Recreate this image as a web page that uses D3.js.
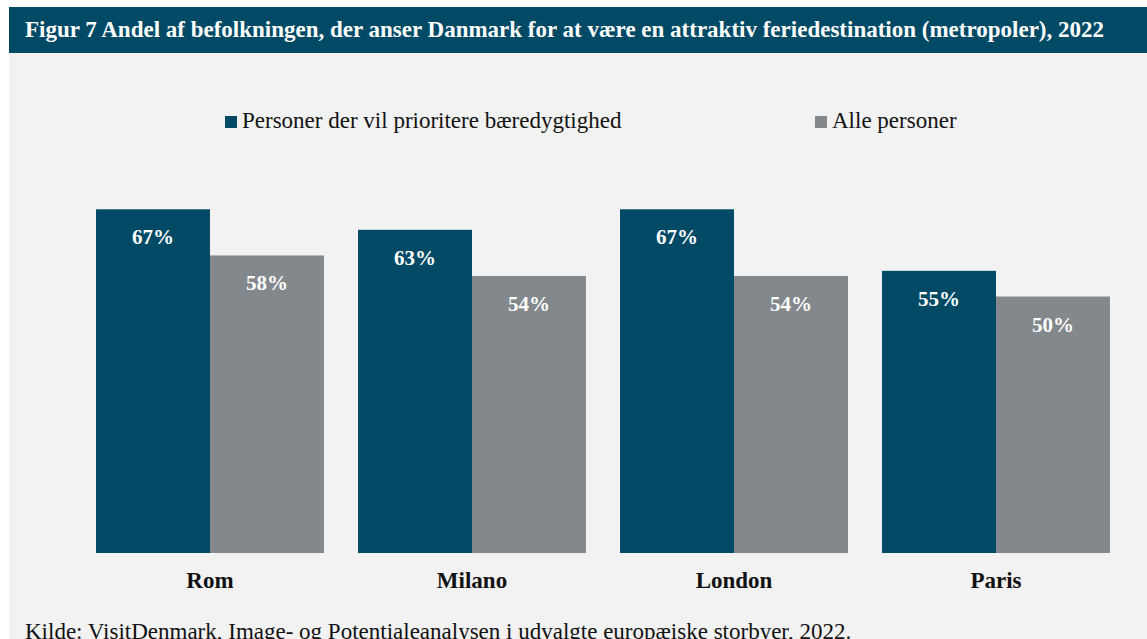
<!DOCTYPE html>
<meta charset="utf-8">
<html>
  <style>
    body { margin: 0; background: #fff; }
    text { font-family: "Liberation Serif", "DejaVu Serif", serif; }
  </style>
  <head>
    <script src="https://d3js.org/d3.v7.min.js"></script>
  </head>
  <body>
    <script>
      // data
      var cities = ["Rom", "Milano", "London", "Paris"];
      var seriesNames = ["Personer der vil prioritere bæredygtighed", "Alle personer"];
      var baeredygtig = [67, 63, 67, 55];
      var alle = [58, 54, 54, 50];
      var colors = ["#004a66", "#83888c"];

      var W = 1147, H = 639;

      var svg = d3.select("body").append("svg")
          .attr("width", W)
          .attr("height", H);

      // panel background + title bar
      svg.append("rect").attr("x", 9).attr("y", 53).attr("width", W - 9).attr("height", H - 53)
         .attr("fill", "#f2f2f2");
      svg.append("rect").attr("x", 9).attr("y", 7).attr("width", W - 9).attr("height", 46)
         .attr("fill", "#004a66");
      svg.append("text")
         .attr("x", 25).attr("y", 37)
         .attr("fill", "#fff")
         .attr("font-weight", "bold")
         .attr("font-size", 23)
         .text("Figur 7 Andel af befolkningen, der anser Danmark for at være en attraktiv feriedestination (metropoler), 2022");

      //scales
      var x0 = d3.scaleBand().domain(cities).range([79, 1127]).paddingInner(0.13).paddingOuter(0.065);
      var x1 = d3.scaleBand().domain([0, 1]).range([0, x0.bandwidth()]);
      var y = d3.scaleLinear().domain([0, 100]).range([553, 40]);

      var rows = cities.map(function(c, i) {
        return {city: c, vals: [baeredygtig[i], alle[i]]};
      });

      var groups = svg.selectAll(".grp").data(rows).enter().append("g")
          .attr("transform", function(d) { return "translate(" + x0(d.city) + ",0)"; });

      groups.selectAll("rect").data(function(d) { return d.vals; }).enter().append("rect")
          .attr("x", function(d, i) { return x1(i); })
          .attr("y", function(d) { return y(d); })
          .attr("width", x1.bandwidth())
          .attr("height", function(d) { return y(0) - y(d); })
          .attr("fill", function(d, i) { return colors[i]; });

      groups.selectAll(".lbl").data(function(d) { return d.vals; }).enter().append("text")
          .attr("x", function(d, i) { return x1(i) + x1.bandwidth() / 2; })
          .attr("y", function(d) { return y(d) + 35; })
          .attr("text-anchor", "middle")
          .attr("fill", "#fff")
          .attr("font-weight", "bold")
          .attr("font-size", 21)
          .text(function(d) { return d + "%"; });

      // x axis labels
      svg.selectAll(".cat").data(cities).enter().append("text")
         .attr("x", function(d) { return x0(d) + x0.bandwidth() / 2; })
         .attr("y", 588)
         .attr("text-anchor", "middle")
         .attr("font-weight", "bold")
         .attr("font-size", 23)
         .attr("fill", "#111")
         .text(function(d) { return d; });

      // legend
      var legX = [225, 815];
      var leg = svg.selectAll(".leg").data(seriesNames).enter().append("g")
          .attr("transform", function(d, i) { return "translate(" + legX[i] + ",116)"; });
      leg.append("rect").attr("width", 12).attr("height", 12)
         .attr("fill", function(d, i) { return colors[i]; });
      leg.append("text").attr("x", 17).attr("y", 12)
         .attr("font-size", 23)
         .attr("fill", "#111")
         .text(function(d) { return d; });

      // source (cut off at the bottom edge, as in the original)
      svg.append("text")
         .attr("x", 25).attr("y", 639)
         .attr("font-size", 23)
         .attr("fill", "#111")
         .text("Kilde: VisitDenmark, Image- og Potentialeanalysen i udvalgte europæiske storbyer, 2022.");
    </script>
  </body>
</html>
